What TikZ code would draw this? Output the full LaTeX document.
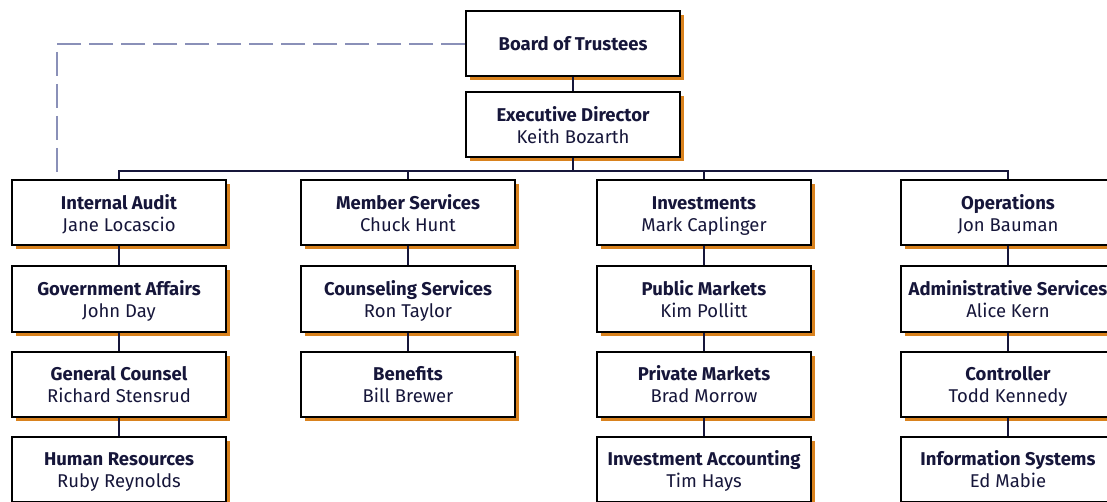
\documentclass[tikz,border=0pt]{standalone}
\usepackage{fontspec}
\setmainfont{Fira Sans}
\usepackage{tikz}
\usetikzlibrary{positioning,shadows}

\definecolor{inkblue}{HTML}{16163A}
\definecolor{shade}{HTML}{D9821E}
\definecolor{dashblue}{HTML}{8A90B8}

% title on top, name below, both lines with a fixed height
\newcommand{\unitbox}[2]{\rule{0pt}{18pt}\textbf{#1}\\\rule[-3.6pt]{0pt}{3.6pt}#2}

\tikzset{
  unit/.style={draw=black, line width=2pt, fill=white,
    minimum width=214pt, minimum height=65pt, inner sep=0pt,
    align=center, text=inkblue,
    font=\fontsize{18.5}{22}\selectfont,
    drop shadow={shadow xshift=4pt, shadow yshift=-4pt, fill=shade, opacity=1}},
  link/.style={line width=2pt, draw=inkblue},
  auditlink/.style={line width=1.2pt, draw=dashblue, dash pattern=on 24pt off 8pt}
}

\begin{document}
\begin{tikzpicture}[x=1pt,y=-1pt]
\clip (0,0) rectangle (1107,502);
\fill[white] (0,0) rectangle (1107,502);

% top of the chart
\node[unit] (board) at (573,44) {\textbf{Board of Trustees}};
\node[unit] (exec) at (573,125) {\unitbox{Executive Director}{Keith Bozarth}};

% four divisions
\node[unit] (audit) at (119,213) {\unitbox{Internal Audit}{Jane Locascio}};
\node[unit] (member) at (408,213) {\unitbox{Member Services}{Chuck Hunt}};
\node[unit] (invest) at (704,213) {\unitbox{Investments}{Mark Caplinger}};
\node[unit] (ops) at (1008,213) {\unitbox{Operations}{Jon Bauman}};

% second row
\node[unit] (govt) at (119,299) {\unitbox{Government Affairs}{John Day}};
\node[unit] (counsel) at (408,299) {\unitbox{Counseling Services}{Ron Taylor}};
\node[unit] (public) at (704,299) {\unitbox{Public Markets}{Kim Pollitt}};
\node[unit] (admin) at (1008,299) {\unitbox{Administrative Services}{Alice Kern}};

% third row
\node[unit] (legal) at (119,384) {\unitbox{General Counsel}{Richard Stensrud}};
\node[unit] (benefits) at (408,384) {\unitbox{Benefits}{Bill Brewer}};
\node[unit] (private) at (704,384) {\unitbox{Private Markets}{Brad Morrow}};
\node[unit] (control) at (1008,384) {\unitbox{Controller}{Todd Kennedy}};

% fourth row
\node[unit] (hr) at (119,469) {\unitbox{Human Resources}{Ruby Reynolds}};
\node[unit] (acct) at (704,469) {\unitbox{Investment Accounting}{Tim Hays}};
\node[unit] (infosys) at (1008,469) {\unitbox{Information Systems}{Ed Mabie}};

\coordinate (bus) at (573,171);

% reporting lines
\draw[link] (board.south) -- (exec.north);
\draw[link] (exec.south) -- (bus);
\draw[link] (audit.north) |- (bus) -| (ops.north);
\draw[link] (member.north) -- (member.north |- bus);
\draw[link] (invest.north) -- (invest.north |- bus);

\draw[link] (audit.south) -- (govt.north);
\draw[link] (govt.south) -- (legal.north);
\draw[link] (legal.south) -- (hr.north);
\draw[link] (member.south) -- (counsel.north);
\draw[link] (counsel.south) -- (benefits.north);
\draw[link] (invest.south) -- (public.north);
\draw[link] (public.south) -- (private.north);
\draw[link] (private.south) -- (acct.north);
\draw[link] (ops.south) -- (admin.north);
\draw[link] (admin.south) -- (control.north);
\draw[link] (control.south) -- (infosys.north);

% dashed line from the board to audit
\draw[auditlink] (board.west) -| ([xshift=46pt]audit.north west);
\end{tikzpicture}
\end{document}
